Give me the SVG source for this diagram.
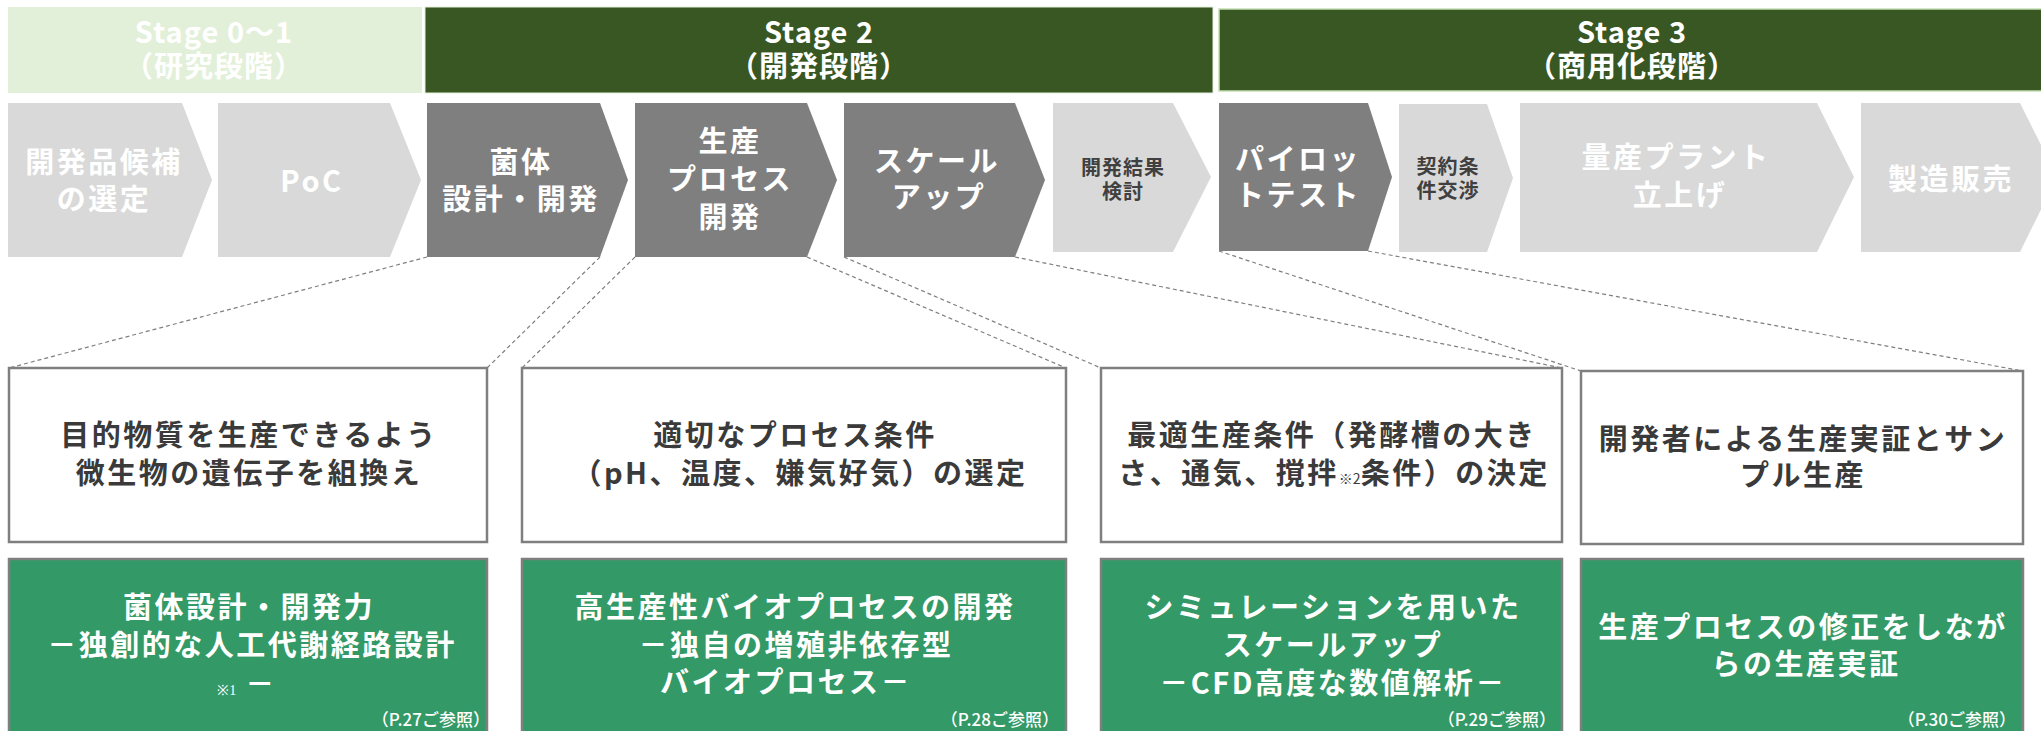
<svg xmlns="http://www.w3.org/2000/svg" width="2041" height="731" viewBox="0 0 2041 731">
<style>
text { font-family: 'Noto Sans CJK JP','Noto Sans',sans-serif; font-weight:700; text-anchor:middle; }
.st { font-size:29px; fill:#fff; letter-spacing:1px }
.cv { font-size:29px; fill:#fff; letter-spacing:2.5px }
.cs { font-size:20px; fill:#404040; letter-spacing:1px }
.bx { font-size:29px; fill:#3A3A3A; letter-spacing:2.5px }
.gt { font-size:29px; fill:#fff; letter-spacing:2.5px }
.ref { font-size:17px; fill:#fff; text-anchor:end; font-weight:500 }
.note { font-size:14px; font-weight:400; letter-spacing:0 }
.dark { fill:#7F7F7F }
.light { fill:#D9D9D9 }
.wbox { fill:#fff; stroke:#7F7F7F; stroke-width:2.5 }
.gbox { fill:#339966; stroke:#7F7F7F; stroke-width:2.5 }
.conn { stroke:#7F7F7F; stroke-width:1.2; stroke-dasharray:4 3; fill:none }
</style>
<rect width="2041" height="731" fill="#fff"/>

<!-- Stage headers -->
<g id="stage01">
<rect x="8" y="7" width="414" height="86" fill="#E2F0D9"/>
<text class="st" x="214" y="43">Stage 0～1</text>
<text class="st" x="214" y="77">（研究段階）</text>
</g>
<g id="stage2">
<rect x="425" y="7" width="788" height="86" fill="#385723" stroke="#E2F0D9" stroke-width="1"/>
<text class="st" x="819" y="43">Stage 2</text>
<text class="st" x="819" y="77">（開発段階）</text>
</g>
<g id="stage3">
<rect x="1219" y="9" width="824" height="82" fill="#385723" stroke="#C5E0B4" stroke-width="1.5"/>
<text class="st" x="1632" y="43">Stage 3</text>
<text class="st" x="1632" y="77">（商用化段階）</text>
</g>

<!-- Chevrons -->
<g id="chev1">
<polygon class="light" points="8,103 182,103 212,180 182,257 8,257"/>
<text class="cv" x="104" y="173">開発品候補</text>
<text class="cv" x="104" y="210">の選定</text>
</g>
<g id="chev2">
<polygon class="light" points="218,103 390,103 421,180 390,257 218,257"/>
<text class="cv" x="312" y="192">PoC</text>
</g>
<g id="chev3">
<polygon class="dark" points="427,103 600,103 628,180 600,257 427,257"/>
<text class="cv" x="521" y="173">菌体</text>
<text class="cv" x="521" y="210">設計・開発</text>
</g>
<g id="chev4">
<polygon class="dark" points="635,103 807,103 837,180 807,257 635,257"/>
<text class="cv" x="730" y="152">生産</text>
<text class="cv" x="730" y="190">プロセス</text>
<text class="cv" x="730" y="228">開発</text>
</g>
<g id="chev5">
<polygon class="dark" points="844,103 1015,103 1045,180 1015,257 844,257"/>
<text class="cv" x="937" y="172">スケール</text>
<text class="cv" x="939" y="208">アップ</text>
</g>
<g id="chev6">
<polygon class="light" points="1053,103 1173,103 1211,177 1173,252 1053,252"/>
<text class="cs" x="1123" y="175">開発結果</text>
<text class="cs" x="1123" y="199">検討</text>
</g>
<g id="chev7">
<polygon class="dark" points="1219,103 1368,103 1392,177 1368,251 1219,251"/>
<text class="cv" x="1298" y="170">パイロッ</text>
<text class="cv" x="1298" y="206">トテスト</text>
</g>
<g id="chev8">
<polygon class="light" points="1399,104 1487,104 1513,178 1487,252 1399,252"/>
<text class="cs" x="1448" y="174">契約条</text>
<text class="cs" x="1448" y="198">件交渉</text>
</g>
<g id="chev9">
<polygon class="light" points="1520,103 1817,103 1854,177 1817,252 1520,252"/>
<text class="cv" x="1676" y="168">量産プラント</text>
<text class="cv" x="1680" y="206">立上げ</text>
</g>
<g id="chev10">
<polygon class="light" points="1861,103 2020,103 2057,177 2020,252 1861,252"/>
<text class="cv" x="1951" y="190">製造販売</text>
</g>

<!-- Connectors -->
<g id="connectors">
<line class="conn" x1="427" y1="257" x2="9" y2="368"/>
<line class="conn" x1="600" y1="257" x2="487" y2="368"/>
<line class="conn" x1="635" y1="257" x2="522" y2="368"/>
<line class="conn" x1="807" y1="257" x2="1066" y2="368"/>
<line class="conn" x1="844" y1="257" x2="1101" y2="368"/>
<line class="conn" x1="1015" y1="257" x2="1562" y2="368"/>
<line class="conn" x1="1219" y1="251" x2="1581" y2="371"/>
<line class="conn" x1="1368" y1="251" x2="2023" y2="371"/>
</g>

<!-- Description boxes -->
<g id="desc1">
<rect class="wbox" x="9" y="368" width="478" height="174"/>
<text class="bx" x="249" y="446">目的物質を生産できるよう</text>
<text class="bx" x="249" y="484">微生物の遺伝子を組換え</text>
</g>
<g id="desc2">
<rect class="wbox" x="522" y="368" width="544" height="174"/>
<text class="bx" x="795" y="446">適切なプロセス条件</text>
<text class="bx" x="800" y="484">（pH、温度、嫌気好気）の選定</text>
</g>
<g id="desc3">
<rect class="wbox" x="1101" y="368" width="461" height="174"/>
<text class="bx" x="1332" y="446">最適生産条件（発酵槽の大き</text>
<text class="bx" x="1334" y="484">さ、通気、撹拌<tspan class="note">※2</tspan>条件）の決定</text>
</g>
<g id="desc4">
<rect class="wbox" x="1581" y="371" width="442" height="173"/>
<text class="bx" x="1803" y="450">開発者による生産実証とサン</text>
<text class="bx" x="1803" y="486">プル生産</text>
</g>

<!-- Strength boxes -->
<g id="strength1">
<rect class="gbox" x="9" y="559" width="478" height="185"/>
<text class="gt" x="249" y="618">菌体設計・開発力</text>
<text class="gt" x="252" y="656">－独創的な人工代謝経路設計</text>
<text class="gt" x="247" y="695"><tspan class="note" font-family="'Liberation Serif',serif">※1</tspan> －</text>
<text class="ref" x="490" y="726">（P.27ご参照）</text>
</g>
<g id="strength2">
<rect class="gbox" x="522" y="559" width="544" height="185"/>
<text class="gt" x="795" y="618">高生産性バイオプロセスの開発</text>
<text class="gt" x="796" y="656">－独自の増殖非依存型</text>
<text class="gt" x="786" y="693">バイオプロセス－</text>
<text class="ref" x="1059" y="726">（P.28ご参照）</text>
</g>
<g id="strength3">
<rect class="gbox" x="1101" y="559" width="461" height="185"/>
<text class="gt" x="1333" y="618">シミュレーションを用いた</text>
<text class="gt" x="1333" y="656">スケールアップ</text>
<text class="gt" x="1333" y="694">－CFD高度な数値解析－</text>
<text class="ref" x="1556" y="726">（P.29ご参照）</text>
</g>
<g id="strength4">
<rect class="gbox" x="1581" y="559" width="442" height="185"/>
<text class="gt" x="1803" y="638">生産プロセスの修正をしなが</text>
<text class="gt" x="1806" y="675">らの生産実証</text>
<text class="ref" x="2016" y="726">（P.30ご参照）</text>
</g>
</svg>
